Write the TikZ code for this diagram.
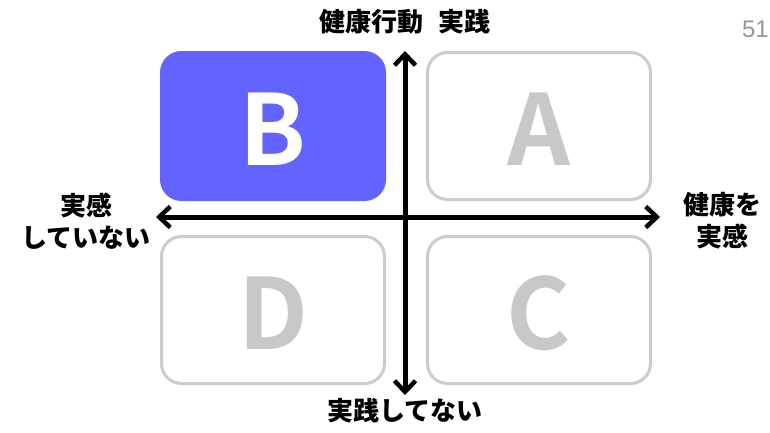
\documentclass[tikz,border=0pt]{standalone}
\usepackage{fontspec}
\setmainfont{Liberation Sans}
\newfontfamily\cjk{Noto Sans CJK JP}[BoldFont={Noto Sans CJK JP Black}]
\newfontfamily\cjkletter{Noto Sans CJK JP Bold}
\usetikzlibrary{arrows.meta}
\definecolor{bfill}{RGB}{99,99,255}
\definecolor{boxline}{RGB}{204,204,204}
\definecolor{lettergray}{RGB}{200,200,200}
\definecolor{numgray}{RGB}{150,150,150}
\tikzset{
  quad/.style={draw=boxline, line width=3pt, rounded corners=20pt, minimum width=223pt, minimum height=147pt, inner sep=0pt, anchor=north west},
  letter/.style={font=\cjkletter\fontsize{98}{98}\selectfont, text=lettergray, yshift=-3pt},
  lbl/.style={font=\cjk\bfseries\fontsize{26}{32}\selectfont, align=center, text=black},
  tip/.tip={Straight Barb[length=11pt,width=21pt,line width=4.5pt]},
  axis/.style={line width=5pt, tip-tip}
}
\begin{document}
\begin{tikzpicture}[x=1pt,y=-1pt]
\useasboundingbox (0,0) rectangle (770,432);
\clip (0,0) rectangle (770,432);
\fill[white] (0,0) rectangle (770,432);
\node[quad, fill=bfill, draw=bfill] (B) at (160,51) {};
\node[quad] (A) at (426,51) {};
\node[quad] (D) at (160,235) {};
\node[quad] (C) at (426,235) {};
\node[letter, text=white] (bl) at (B.center) {B};
\node[letter] (al) at (A.center) {A};
\node[letter] (dl) at (D.center) {D};
\node[letter] (cl) at (C.center) {C};
\coordinate (top) at (405,51);
\coordinate (bot) at (405,395);
\coordinate (lft) at (156,217);
\coordinate (rgt) at (660,217);
\draw[axis] (bot) -- (top);
\draw[axis] (lft) -- (rgt);
\node[lbl] (tlabel) at (405,22) {健康行動\hspace{0.6em}実践};
\node[lbl] (blabel) at (405,411) {実践してない};
\node[lbl] (llabel) at (86,221) {実感\\していない};
\node[lbl] (rlabel) at (722,221) {健康を\\実感};
\node[font=\fontsize{24}{24}\selectfont, text=numgray, anchor=east, inner sep=1pt] (num) at (770,29) {51};
\end{tikzpicture}
\end{document}
